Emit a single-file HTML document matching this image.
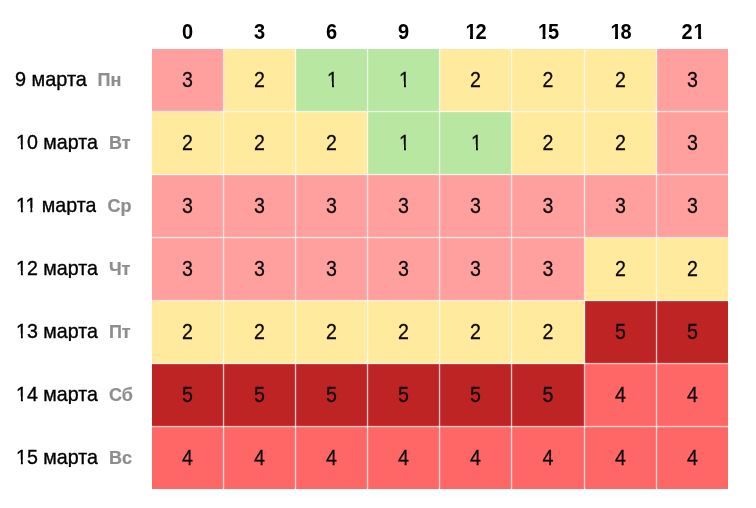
<!DOCTYPE html>
<html lang="ru"><head><meta charset="utf-8"><title>Прогноз</title>
<style>
html,body{margin:0;padding:0;background:#fff;}
body{width:756px;height:508px;position:relative;overflow:hidden;font-family:"Liberation Sans",Arial,sans-serif;color:#000;}
.h{position:absolute;top:20px;height:24px;line-height:24px;font-size:20px;font-weight:bold;text-align:center;transform:scaleY(1.07);transform-origin:50% 19px;}
.h.a{letter-spacing:-1px;clip-path:polygon(0 0,100% 0,100% 100%,calc(50% + .625px) 100%,calc(50% + .625px) 15px,calc(50% - 2.475px) 15px,calc(50% - 2.475px) 100%,calc(50% - 5.525px) 100%,calc(50% - 5.525px) 15px,0 15px);}
.h.z{letter-spacing:1px;padding-left:2px;box-sizing:border-box;clip-path:polygon(0 0,100% 0,100% 15px,calc(50% + 8.65px) 15px,calc(50% + 8.65px) 100%,calc(50% + 5.6px) 100%,calc(50% + 5.6px) 15px,calc(50% + .5px) 15px,calc(50% + .5px) 100%,0 100%);}
.c{position:absolute;height:63px;line-height:62px;font-size:20px;text-align:center;color:#0d0808;-webkit-text-stroke:0.25px #0d0808;box-sizing:border-box;padding-right:1px;}
.c span{display:block;height:62px;transform:translateY(-0.8px) scale(.98,1.07);transform-origin:50% 50%;}
.c.v1 span{position:relative;left:1px;clip-path:polygon(0 0,100% 0,100% 33px,calc(50% + 1.5px) 33px,calc(50% + 1.5px) 100%,calc(50% - .5px) 100%,calc(50% - .5px) 33px,0 33px);}
.l{position:absolute;left:16px;height:62px;line-height:60px;font-size:20px;white-space:nowrap;color:#000;}
.l span{display:inline-block;line-height:20px;-webkit-text-stroke:0.35px #000;transform:scale(.982,1.045);transform-origin:0 17px;}
.l .a{clip-path:polygon(0 0,100% 0,100% 100%,11.2px 100%,11.2px 13px,7px 13px,7px 100%,5px 100%,5px 13px,0 13px);}
.l .b{clip-path:polygon(0 0,100% 0,100% 100%,20.9px 100%,20.9px 13px,16.64px 13px,16.64px 100%,14.64px 100%,14.64px 13px,7px 13px,7px 100%,5px 100%,5px 13px,0 13px);}
.l b{font-size:18px;color:#8e8e8e;margin-left:10px;-webkit-text-stroke:0.2px #8e8e8e;}
.v1{background:#b7e7a0}.v2{background:#ffea9e}.v3{background:#ffa09e}.v4{background:#ff6666}.v5{background:#be2424}
.vl{position:absolute;top:49px;height:440px;width:3px;background:linear-gradient(to right,rgba(255,255,255,.1) 0 1px,rgba(255,255,255,.75) 1px 2px,rgba(255,255,255,.14) 2px 3px);}
.hl{position:absolute;left:152px;width:576px;height:3px;background:linear-gradient(to bottom,rgba(255,255,255,.1) 0 1px,rgba(255,255,255,.75) 1px 2px,rgba(255,255,255,.14) 2px 3px);}
</style></head><body>

<div class="h" style="left:152px;width:71px">0</div>
<div class="h" style="left:224px;width:71px">3</div>
<div class="h" style="left:296px;width:71px">6</div>
<div class="h" style="left:368px;width:71px">9</div>
<div class="h a" style="left:440px;width:71px">12</div>
<div class="h a" style="left:512px;width:72px">15</div>
<div class="h a" style="left:585px;width:71px">18</div>
<div class="h z" style="left:657px;width:71px">21</div>
<div class="l" style="top:49px;left:15.2px"><span style="transform:scale(.994,1.045)">9 марта</span><b>Пн</b></div>
<div class="c v3" style="left:152px;top:49px;width:72px;height:63px"><span>3</span></div>
<div class="c v2" style="left:224px;top:49px;width:72px;height:63px"><span>2</span></div>
<div class="c v1" style="left:296px;top:49px;width:72px;height:63px"><span>1</span></div>
<div class="c v1" style="left:368px;top:49px;width:72px;height:63px"><span>1</span></div>
<div class="c v2" style="left:440px;top:49px;width:72px;height:63px"><span>2</span></div>
<div class="c v2" style="left:512px;top:49px;width:73px;height:63px"><span>2</span></div>
<div class="c v2" style="left:585px;top:49px;width:72px;height:63px"><span>2</span></div>
<div class="c v3" style="left:657px;top:49px;width:71px;height:63px;padding-right:0"><span>3</span></div>
<div class="l" style="top:112px"><span class="a">10 марта</span><b style="margin-left:9.5px">Вт</b></div>
<div class="c v2" style="left:152px;top:112px;width:72px;height:63px"><span>2</span></div>
<div class="c v2" style="left:224px;top:112px;width:72px;height:63px"><span>2</span></div>
<div class="c v2" style="left:296px;top:112px;width:72px;height:63px"><span>2</span></div>
<div class="c v1" style="left:368px;top:112px;width:72px;height:63px"><span>1</span></div>
<div class="c v1" style="left:440px;top:112px;width:72px;height:63px"><span>1</span></div>
<div class="c v2" style="left:512px;top:112px;width:73px;height:63px"><span>2</span></div>
<div class="c v2" style="left:585px;top:112px;width:72px;height:63px"><span>2</span></div>
<div class="c v3" style="left:657px;top:112px;width:71px;height:63px;padding-right:0"><span>3</span></div>
<div class="l" style="top:175px"><span class="b">11 марта</span><b style="margin-left:9.5px">Ср</b></div>
<div class="c v3" style="left:152px;top:175px;width:72px;height:63px"><span>3</span></div>
<div class="c v3" style="left:224px;top:175px;width:72px;height:63px"><span>3</span></div>
<div class="c v3" style="left:296px;top:175px;width:72px;height:63px"><span>3</span></div>
<div class="c v3" style="left:368px;top:175px;width:72px;height:63px"><span>3</span></div>
<div class="c v3" style="left:440px;top:175px;width:72px;height:63px"><span>3</span></div>
<div class="c v3" style="left:512px;top:175px;width:73px;height:63px"><span>3</span></div>
<div class="c v3" style="left:585px;top:175px;width:72px;height:63px"><span>3</span></div>
<div class="c v3" style="left:657px;top:175px;width:71px;height:63px;padding-right:0"><span>3</span></div>
<div class="l" style="top:238px"><span class="a">12 марта</span><b style="margin-left:9.5px">Чт</b></div>
<div class="c v3" style="left:152px;top:238px;width:72px;height:63px"><span>3</span></div>
<div class="c v3" style="left:224px;top:238px;width:72px;height:63px"><span>3</span></div>
<div class="c v3" style="left:296px;top:238px;width:72px;height:63px"><span>3</span></div>
<div class="c v3" style="left:368px;top:238px;width:72px;height:63px"><span>3</span></div>
<div class="c v3" style="left:440px;top:238px;width:72px;height:63px"><span>3</span></div>
<div class="c v3" style="left:512px;top:238px;width:73px;height:63px"><span>3</span></div>
<div class="c v2" style="left:585px;top:238px;width:72px;height:63px"><span>2</span></div>
<div class="c v2" style="left:657px;top:238px;width:71px;height:63px;padding-right:0"><span>2</span></div>
<div class="l" style="top:301px"><span class="a">13 марта</span><b style="margin-left:9.5px">Пт</b></div>
<div class="c v2" style="left:152px;top:301px;width:72px;height:63px"><span>2</span></div>
<div class="c v2" style="left:224px;top:301px;width:72px;height:63px"><span>2</span></div>
<div class="c v2" style="left:296px;top:301px;width:72px;height:63px"><span>2</span></div>
<div class="c v2" style="left:368px;top:301px;width:72px;height:63px"><span>2</span></div>
<div class="c v2" style="left:440px;top:301px;width:72px;height:63px"><span>2</span></div>
<div class="c v2" style="left:512px;top:301px;width:73px;height:63px"><span>2</span></div>
<div class="c v5" style="left:585px;top:301px;width:72px;height:63px"><span>5</span></div>
<div class="c v5" style="left:657px;top:301px;width:71px;height:63px;padding-right:0"><span>5</span></div>
<div class="l" style="top:364px"><span class="a">14 марта</span><b style="margin-left:9.5px">Сб</b></div>
<div class="c v5" style="left:152px;top:364px;width:72px;height:63px"><span>5</span></div>
<div class="c v5" style="left:224px;top:364px;width:72px;height:63px"><span>5</span></div>
<div class="c v5" style="left:296px;top:364px;width:72px;height:63px"><span>5</span></div>
<div class="c v5" style="left:368px;top:364px;width:72px;height:63px"><span>5</span></div>
<div class="c v5" style="left:440px;top:364px;width:72px;height:63px"><span>5</span></div>
<div class="c v5" style="left:512px;top:364px;width:73px;height:63px"><span>5</span></div>
<div class="c v4" style="left:585px;top:364px;width:72px;height:63px"><span>4</span></div>
<div class="c v4" style="left:657px;top:364px;width:71px;height:63px;padding-right:0"><span>4</span></div>
<div class="l" style="top:427px"><span class="a">15 марта</span><b style="margin-left:9.5px">Вс</b></div>
<div class="c v4" style="left:152px;top:427px;width:72px;height:62px"><span>4</span></div>
<div class="c v4" style="left:224px;top:427px;width:72px;height:62px"><span>4</span></div>
<div class="c v4" style="left:296px;top:427px;width:72px;height:62px"><span>4</span></div>
<div class="c v4" style="left:368px;top:427px;width:72px;height:62px"><span>4</span></div>
<div class="c v4" style="left:440px;top:427px;width:72px;height:62px"><span>4</span></div>
<div class="c v4" style="left:512px;top:427px;width:73px;height:62px"><span>4</span></div>
<div class="c v4" style="left:585px;top:427px;width:72px;height:62px"><span>4</span></div>
<div class="c v4" style="left:657px;top:427px;width:71px;height:62px;padding-right:0"><span>4</span></div>
<div class="vl" style="left:222px"></div>
<div class="vl" style="left:294px"></div>
<div class="vl" style="left:366px"></div>
<div class="vl" style="left:438px"></div>
<div class="vl" style="left:510px"></div>
<div class="vl" style="left:583px"></div>
<div class="vl" style="left:655px"></div>
<div class="hl" style="top:110px"></div>
<div class="hl" style="top:173px"></div>
<div class="hl" style="top:236px"></div>
<div class="hl" style="top:299px"></div>
<div class="hl" style="top:362px"></div>
<div class="hl" style="top:425px"></div>
</body></html>
